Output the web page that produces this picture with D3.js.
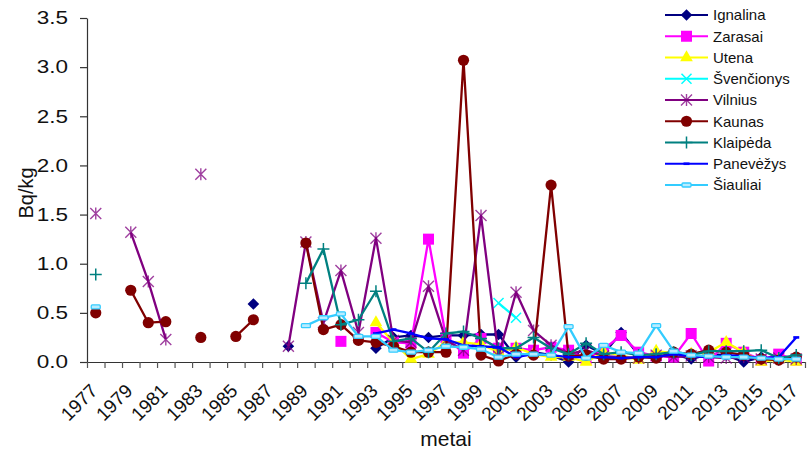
<!DOCTYPE html>
<html><head><meta charset="utf-8">
<script src="https://cdn.jsdelivr.net/npm/d3@7"></script>
<style>
body{margin:0;background:#fff}
svg{display:block}
text{font-family:"Liberation Sans",Arial,sans-serif;fill:#111}
</style>
</head><body>
<svg id="chart" width="807" height="451"></svg>
<script>
// ---- data ----
const years = [1977,1978,1979,1980,1981,1982,1983,1984,1985,1986,1987,1988,1989,1990,1991,1992,1993,1994,1995,1996,1997,1998,1999,2000,2001,2002,2003,2004,2005,2006,2007,2008,2009,2010,2011,2012,2013,2014,2015,2016,2017];
const yearLabels = [1977,1979,1981,1983,1985,1987,1989,1991,1993,1995,1997,1999,2001,2003,2005,2007,2009,2011,2013,2015,2017];
const yTickValues = [0,0.5,1.0,1.5,2.0,2.5,3.0,3.5];
const seriesNames = ["Ignalina","Zarasai","Utena","Švenčionys","Vilnius","Kaunas","Klaipėda","Panevėžys","Šiauliai"];

const ignalina = [null,null,null,null,null,null,null,null,null,0.59,null,0.16,null,null,null,null,
  0.14,0.25,0.27,0.25,0.27,0.27,0.28,0.28,0.05,0.10,0.07,0.00,0.17,0.08,0.30,0.07,0.05,0.08,0.03,0.08,0.07,0.00,0.05,0.02,0.05];
const zarasai = [null,null,null,null,null,null,null,null,null,null,null,null,null,null,0.21,null,
  0.30,0.20,0.19,1.25,0.25,0.09,0.24,0.14,0.14,0.12,0.15,0.12,0.03,0.13,0.27,0.10,0.06,0.05,0.29,0.01,0.19,0.10,0.02,0.08,0.02];
const utena = [null,null,null,null,null,null,null,null,null,null,null,null,null,null,null,null,
  0.40,0.20,0.03,0.08,0.20,0.20,0.18,0.10,0.15,0.08,0.05,0.05,0.00,0.10,0.07,0.02,0.11,0.09,0.08,0.10,0.20,0.10,0.00,0.03,0.00];
const svencionys = [null,null,null,null,null,null,null,null,null,null,null,null,null,null,null,null,
  null,null,null,null,null,null,null,0.60,0.45,null,null,null,null,null,null,null,null,null,null,null,null,null,null,null,null];
const vilnius = [1.51,null,1.32,0.82,0.23,null,1.91,null,null,null,null,0.16,1.22,0.40,0.93,0.30,
  1.26,0.22,0.20,0.77,0.22,0.12,1.49,0.06,0.71,0.32,0.17,0.08,0.12,0.06,0.05,0.04,0.07,0.05,0.06,0.05,0.04,0.05,0.03,0.04,0.03];
const kaunas = [0.50,null,0.73,0.40,0.41,null,0.25,null,0.26,0.43,null,null,1.21,0.33,0.38,0.22,
  0.20,0.16,0.10,0.10,0.10,3.07,0.07,0.01,0.08,0.07,1.80,0.06,0.07,0.03,0.03,0.05,0.04,0.10,0.08,0.12,0.10,0.07,0.03,0.02,0.05];
const klaipeda = [0.89,null,null,null,null,null,null,null,null,null,null,null,0.80,1.15,0.38,0.43,
  0.72,0.21,0.24,0.10,0.29,0.31,0.24,0.14,0.14,0.25,0.14,0.08,0.19,0.08,0.10,0.07,0.08,0.10,0.07,0.11,0.11,0.11,0.12,0.04,0.07];
const panevezys = [null,null,null,null,null,null,null,null,null,null,null,null,null,null,null,null,
  0.29,0.33,0.29,0.24,0.23,0.17,0.16,0.15,0.05,0.08,0.07,0.05,0.05,0.05,0.04,0.05,0.05,0.08,0.06,0.05,0.07,0.06,0.04,0.05,0.25];
const siauliai = [0.56,null,null,null,null,null,null,null,null,null,null,null,0.37,0.45,0.49,0.26,
  0.26,0.12,0.10,0.12,0.16,0.15,0.13,0.05,0.08,0.08,0.07,0.36,0.04,0.17,0.10,0.09,0.37,0.11,0.07,0.06,0.05,0.05,0.04,0.03,0.03];

const seriesValues = [ignalina,zarasai,utena,svencionys,vilnius,kaunas,klaipeda,panevezys,siauliai];

// ---- styles ----
const styles = [
  {color:"#000080", marker:"diamond"},
  {color:"#FF00FF", marker:"square"},
  {color:"#FFFF00", marker:"triangle"},
  {color:"#00FFFF", marker:"x"},
  {color:"#800080", marker:"star"},
  {color:"#800000", marker:"circle"},
  {color:"#008080", marker:"plus"},
  {color:"#0000FF", marker:"dash"},
  {color:"#33CCFF", marker:"bar"}
];

const svg = d3.select("#chart");
svg.append("rect").attr("width",807).attr("height",451).attr("fill","#fff");

const plotLeft = 87, plotRight = 805, plotTop = 18, plotBottom = 362;
const x = d3.scaleBand().domain(years).range([plotLeft,plotRight]).padding(0);
const xIdx = d3.scaleLinear().domain([0,years.length]).range([plotLeft,plotRight]);
const y = d3.scaleLinear().domain([0,3.5]).range([plotBottom,plotTop]);
const bw = x.bandwidth();
const cx = yr => x(yr) + bw/2;

// axes
const yAxis = svg.append("g").attr("transform",`translate(${plotLeft},0)`)
  .call(d3.axisLeft(y).tickValues(yTickValues).tickFormat(d3.format(".1f")).tickSize(7).tickSizeOuter(0).tickPadding(12));
yAxis.select(".domain").attr("stroke","#333").attr("stroke-width",1.2);
yAxis.selectAll(".tick line").attr("stroke","#333").attr("stroke-width",1.2);
yAxis.selectAll(".tick text").attr("font-size",18).attr("fill","#111")
  .attr("font-family",'"Liberation Sans",Arial,sans-serif')
  .each(function(){
    const t=d3.select(this); const xx=+t.attr("x");
    t.attr("x",0).attr("transform",`translate(${xx},0) scale(1.25,1)`);
  });

const xAxis = svg.append("g").attr("transform",`translate(0,${plotBottom})`)
  .call(d3.axisBottom(xIdx).tickValues(d3.range(years.length+1)).tickFormat("").tickSize(6).tickSizeOuter(0));
xAxis.select(".domain").attr("stroke","#333").attr("stroke-width",1.2);
xAxis.selectAll(".tick line").attr("stroke","#555").attr("stroke-width",1.2);

svg.append("g").selectAll("text").data(yearLabels).join("text")
  .attr("transform",d=>`translate(${cx(d)+3},${plotBottom+30}) rotate(-45)`)
  .attr("text-anchor","end").attr("font-size",19).text(d=>d);

svg.append("text").attr("x",446).attr("y",446).attr("text-anchor","middle")
  .attr("font-size",21).text("metai");
svg.append("text").attr("transform","translate(33,193) rotate(-90)").attr("text-anchor","middle")
  .attr("font-size",20).text("Bq/kg");

// markers
function drawMarker(g, type, color, px, py){
  switch(type){
    case "diamond":
      g.append("path").attr("d",`M${px},${py-5.8}L${px+5.8},${py}L${px},${py+5.8}L${px-5.8},${py}Z`).attr("fill",color);
      break;
    case "square":
      g.append("rect").attr("x",px-5.5).attr("y",py-5.5).attr("width",11).attr("height",11).attr("fill",color);
      break;
    case "triangle":
      g.append("path").attr("d",d3.symbol(d3.symbolTriangle,70)()).attr("transform",`translate(${px},${py})`).attr("fill",color);
      break;
    case "x":
      g.append("path").attr("d",`M${px-5},${py-5}L${px+5},${py+5}M${px-5},${py+5}L${px+5},${py-5}`).attr("stroke",color).attr("stroke-width",1.5);
      break;
    case "star":
      g.append("path").attr("d",`M${px-5.5},${py-5.5}L${px+5.5},${py+5.5}M${px-5.5},${py+5.5}L${px+5.5},${py-5.5}M${px},${py-6}L${px},${py+6}`).attr("stroke",color).attr("stroke-width",1.4).attr("opacity",0.75);
      break;
    case "circle":
      g.append("circle").attr("cx",px).attr("cy",py).attr("r",5.6).attr("fill",color);
      break;
    case "plus":
      g.append("path").attr("d",`M${px-6},${py}L${px+6},${py}M${px},${py-6}L${px},${py+6}`).attr("stroke",color).attr("stroke-width",1.5);
      break;
    case "dash":
      g.append("rect").attr("x",px-3).attr("y",py-1.3).attr("width",6).attr("height",2.6).attr("fill",color);
      break;
    case "bar":
      g.append("rect").attr("x",px-4.5).attr("y",py-2).attr("width",9).attr("height",4).attr("rx",1)
        .attr("fill","#b8ecff").attr("stroke",color).attr("stroke-width",1.3);
      break;
  }
}

const line = d3.line().defined(d=>d.v!==null).x(d=>cx(d.yr)).y(d=>y(d.v));
const plot = svg.append("g");
seriesValues.forEach((vals,si)=>{
  const st = styles[si];
  const data = years.map((yr,i)=>({yr, v: vals[i]}));
  const g = plot.append("g");
  g.append("path").datum(data).attr("d",line).attr("fill","none")
    .attr("stroke",st.color).attr("stroke-width",2.3).attr("stroke-linejoin","round");
  data.filter(d=>d.v!==null).forEach(d=>drawMarker(g,st.marker,st.color,cx(d.yr),y(d.v)));
});

// legend
const lg = svg.append("g");
seriesNames.forEach((name,i)=>{
  const st = styles[i];
  const ly = 15 + i*21.25;
  lg.append("line").attr("x1",665).attr("x2",708).attr("y1",ly).attr("y2",ly)
    .attr("stroke",st.color).attr("stroke-width",2.2);
  drawMarker(lg, st.marker, st.color, 686.5, ly);
  lg.append("text").attr("x",713).attr("y",ly).attr("dy","0.36em").attr("font-size",15).text(name);
});
</script>
</body></html>
